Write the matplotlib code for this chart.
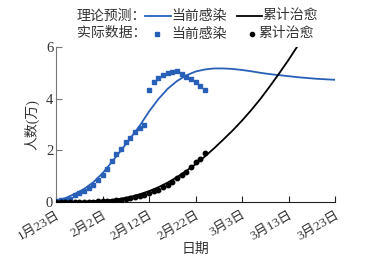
import matplotlib
matplotlib.use("Agg")
import matplotlib.pyplot as plt
from matplotlib.lines import Line2D
import numpy as np

plt.rcParams['font.family'] = ['Liberation Serif', 'Noto Sans CJK SC', 'DejaVu Sans']

# Observed data (units: 10k people), days since 1月23日
obs_days = list(range(33))
obs_current = [0.049, 0.066, 0.096, 0.130, 0.257, 0.335, 0.433, 0.549, 0.674, 0.857,
               1.053, 1.271, 1.568, 1.848, 2.068, 2.314, 2.488, 2.697, 2.853, 2.966,
               4.346, 4.654, 4.818, 4.903, 4.985, 5.034, 5.063, 4.967, 4.851, 4.765,
               4.644, 4.505, 4.337]
obs_recovered = [0.0031, 0.0032, 0.0042, 0.0044, 0.0047, 0.008, 0.009, 0.0116, 0.0166, 0.0215,
                 0.0295, 0.0396, 0.052, 0.0633, 0.0817, 0.1115, 0.1439, 0.1795, 0.2222, 0.2639,
                 0.3441, 0.4131, 0.4774, 0.5623, 0.6639, 0.7862, 0.9128, 1.0337, 1.1788, 1.3557,
                 1.5299, 1.6748, 1.8854]

# Model curves
model_days = list(range(0, 61, 2))
model_current = [0.05, 0.15, 0.31, 0.50, 0.76, 1.11, 1.55, 2.00, 2.47, 2.95,
                 3.50, 3.98, 4.38, 4.68, 4.90, 5.05, 5.13, 5.17, 5.17, 5.15,
                 5.11, 5.06, 5.00, 4.95, 4.91, 4.87, 4.83, 4.80, 4.77, 4.75, 4.73]
rec_days = list(range(0, 53, 2))
model_recovered = [0.0, 0.003, 0.007, 0.015, 0.03, 0.05, 0.08, 0.13, 0.20, 0.30,
                   0.42, 0.57, 0.75, 0.96, 1.20, 1.46, 1.76, 2.08, 2.42, 2.77,
                   3.15, 3.56, 4.00, 4.48, 4.98, 5.50, 6.05]

tick_days = [0, 10, 20, 30, 40, 50, 60]
tick_labels = ['1月23日', '2月2日', '2月12日', '2月22日', '3月3日', '3月13日', '3月23日']

BLUE = '#2860b8'

fig = plt.figure(figsize=(3.66, 2.56), dpi=100)
ax = fig.add_axes([56/366, 1-202/256, (335-56)/366, (202-47)/256])

ax.plot(model_days, model_current, color=BLUE, lw=1.3, zorder=2)
ax.plot(rec_days, model_recovered, color='black', lw=1.3, zorder=2)
ax.plot(obs_days, obs_current, ls='none', marker='s', ms=3.2, color=BLUE, mec=BLUE, zorder=3)
ax.plot(obs_days, obs_recovered, ls='none', marker='o', ms=3.2, color='black', zorder=3)

ax.set_xlim(0, 60)
ax.set_ylim(0, 6)
ax.set_xticks(tick_days)
ax.set_xticklabels(tick_labels, rotation=30, ha='right', rotation_mode='anchor', fontsize=9.5, color='#333333')
ax.set_yticks([0, 2, 4, 6])
ax.set_yticklabels(['0', '2', '4', '6'], fontsize=10.5, color='#333333')
ax.tick_params(axis='both', direction='in', length=4, width=0.8, pad=2)
ax.tick_params(axis='x', pad=5)
for s in ['top', 'right']:
    ax.spines[s].set_visible(False)
ax.spines['left'].set_color('#777777')
ax.spines['bottom'].set_color('#222222')
ax.tick_params(axis='y', colors='#777777', labelcolor='#333333')
ax.tick_params(axis='x', colors='#222222', labelcolor='#333333')

ax.set_xlabel('日期', fontsize=10, color='#333333', labelpad=0)
ax.set_ylabel('人数(万)', fontsize=10, color='#333333', labelpad=5)

# legend drawn in figure coordinates
def fx(px):
    return px / 366
def fy(py):
    return 1 - py / 256

tkw = dict(fontsize=10, color='#333333', va='center', ha='left')
fig.text(fx(77), fy(16), '理论预测：', **tkw)
fig.text(fx(77), fy(34), '实际数据：', **tkw)
fig.add_artist(Line2D([fx(145), fx(171)], [fy(16), fy(16)], color=BLUE, lw=1.3))
fig.text(fx(171), fy(16), '当前感染', **tkw)
fig.add_artist(Line2D([fx(237), fx(262)], [fy(16), fy(16)], color='black', lw=1.3))
fig.text(fx(262), fy(16), '累计治愈', **tkw)
fig.add_artist(Line2D([fx(157)], [fy(34)], ls='none', marker='s', ms=3.0, color=BLUE))
fig.text(fx(171), fy(34), '当前感染', **tkw)
fig.add_artist(Line2D([fx(252)], [fy(34)], ls='none', marker='o', ms=3.0, color='black'))
fig.text(fx(258), fy(34), '累计治愈', **tkw)

fig.savefig('out.png', dpi=100)
